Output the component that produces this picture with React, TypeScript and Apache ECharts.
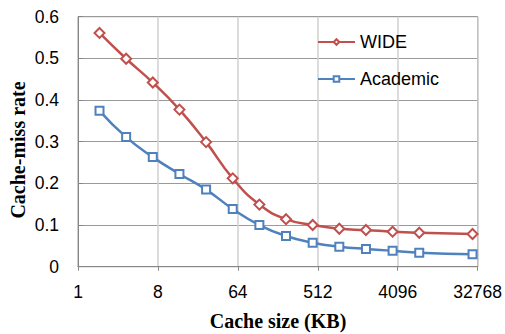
import React, { useEffect, useRef } from "react";
import * as echarts from "echarts";

const cacheSizesKB = [1.75, 3.5, 7, 14, 28, 56, 112, 224, 448, 896, 1792, 3584, 7168, 28672];
const wideMissRate = [0.561, 0.499, 0.442, 0.377, 0.299, 0.212, 0.149, 0.114, 0.1, 0.091, 0.088, 0.084, 0.0815, 0.0785];
const academicMissRate = [0.374, 0.311, 0.263, 0.2225, 0.185, 0.1385, 0.1, 0.0736, 0.0576, 0.048, 0.0425, 0.0384, 0.0336, 0.0297];
const seriesNames = ["WIDE", "Academic"];
const xTitle = "Cache size (KB)";
const yTitle = "Cache-miss rate";

const RED = "#C0504D";
const BLUE = "#4F81BD";
const SANS = "Liberation Sans";
const SERIF = "Liberation Serif";

export default function App() {
  const ref = useRef<HTMLDivElement>(null);
  useEffect(() => {
    if (!ref.current) return;
    const chart = echarts.init(ref.current, undefined, { renderer: "svg" });
    const pairs = (ys: number[]) => cacheSizesKB.map((x, i) => [x, ys[i]]);
    chart.setOption({
      animation: false,
      backgroundColor: "#fff",
      grid: {
        left: 78,
        top: 16.7,
        right: 26,
        bottom: 67.3,
        show: true,
        borderColor: "#868686",
        borderWidth: 1,
        backgroundColor: "transparent",
      },
      legend: {
        orient: "vertical",
        left: 317,
        top: 33,
        padding: 0,
        itemWidth: 37,
        itemHeight: 7,
        itemGap: 19,
        data: seriesNames,
        textStyle: { fontFamily: SANS, fontSize: 18, color: "#000", lineHeight: 18 },
      },
      xAxis: {
        type: "log",
        logBase: 2,
        min: 1,
        max: 32768,
        interval: 3,
        axisLine: { show: true, lineStyle: { color: "#868686", width: 1 } },
        axisTick: { show: true, length: 4, lineStyle: { color: "#868686" } },
        axisLabel: {
          fontFamily: SANS,
          fontSize: 17.5,
          color: "#000",
          margin: 16,
          formatter: (v: number) => String(Math.round(v)),
        },
        splitLine: { show: true, lineStyle: { color: "#d0d0d0", width: 1.5 } },
        minorTick: { show: false },
      },
      yAxis: {
        type: "value",
        min: 0,
        max: 0.6,
        interval: 0.1,
        axisLine: { show: true, lineStyle: { color: "#868686", width: 1 } },
        axisTick: { show: true, inside: true, length: 5, lineStyle: { color: "#868686" } },
        axisLabel: { fontFamily: SANS, fontSize: 17.5, color: "#000", margin: 19 },
        splitLine: { show: true, lineStyle: { color: "#9a9a9a", width: 1 } },
      },
      graphic: [
        {
          type: "text",
          x: 278,
          y: 321,
          style: {
            text: xTitle,
            fontFamily: SERIF,
            fontWeight: "bold",
            fontSize: 20,
            fill: "#000",
            textAlign: "center",
            textVerticalAlign: "middle",
          },
        },
        {
          type: "text",
          x: 18,
          y: 150,
          rotation: Math.PI / 2,
          style: {
            text: yTitle,
            fontFamily: SERIF,
            fontWeight: "bold",
            fontSize: 20,
            fill: "#000",
            textAlign: "center",
            textVerticalAlign: "middle",
          },
        },
      ],
      series: [
        {
          name: seriesNames[0],
          type: "line",
          data: pairs(wideMissRate),
          smooth: 0.5,
          symbol: "emptyDiamond",
          symbolSize: 10,
          lineStyle: { color: RED, width: 2.5 },
          itemStyle: { color: RED, borderWidth: 1.5 },
        },
        {
          name: seriesNames[1],
          type: "line",
          data: pairs(academicMissRate),
          smooth: 0.5,
          symbol: "emptyRect",
          symbolSize: 8,
          lineStyle: { color: BLUE, width: 2.5 },
          itemStyle: { color: BLUE, borderWidth: 1.5 },
        },
      ],
    });
    return () => chart.dispose();
  }, []);
  return <div ref={ref} style={{ width: 505, height: 334, position: "absolute", left: 0, top: 0 }} />;
}
